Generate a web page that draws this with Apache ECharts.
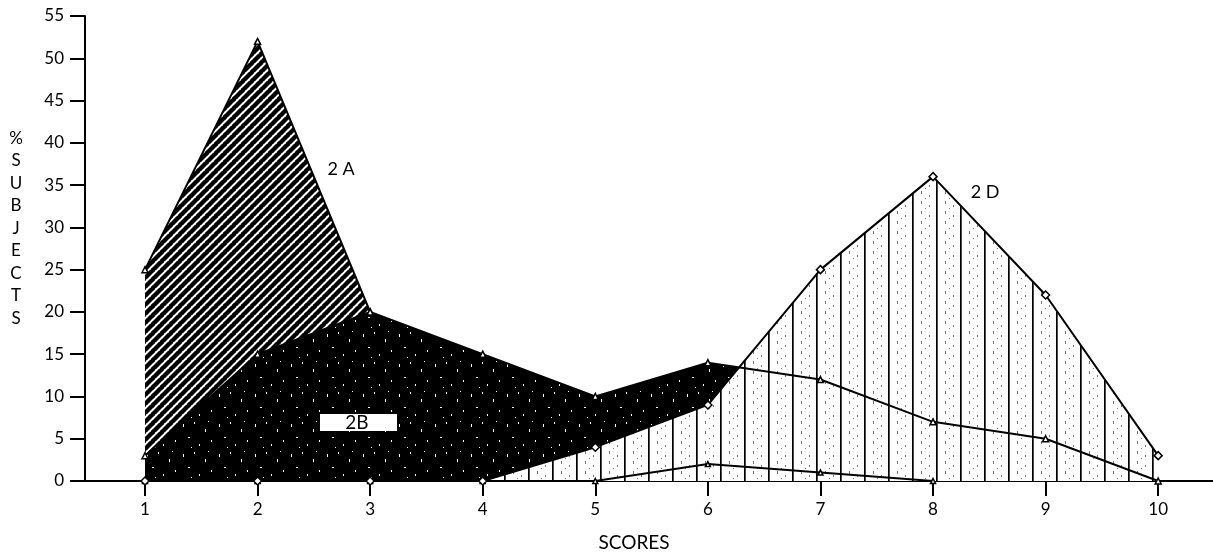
<!DOCTYPE html>
<html>
<head>
<meta charset="utf-8">
<script src="https://cdn.jsdelivr.net/npm/echarts@6/dist/echarts.min.js"></script>
<style>
html,body{margin:0;padding:0;background:#fff;}
#chart{width:1213px;height:556px;}
</style>
</head>
<body>
<div id="chart"></div>
<script>
// ---- data ----
const scores = [1, 2, 3, 4, 5, 6, 7, 8, 9, 10];
const series2A = [25, 52, 20, null, null, null, null, null, null, null];
const series2B = [3, 15, 20, 15, 10, 14, 12, 7, 5, 0];
const series2C = [0, 0, 0, 0, 0, 2, 1, 0, null, null];
const series2D = [0, 0, 0, 0, 4, 9, 25, 36, 22, 3];
const yMin = 0, yMax = 55, yStep = 5;
const xTitle = 'SCORES';
const yTitle = ['%', 'S', 'U', 'B', 'J', 'E', 'C', 'T', 'S'];
const labelA = '2 A', labelB = '2B', labelD = '2 D';

function pairs(vals) { return scores.map((s, i) => [s, vals[i]]); }

// ---- textures ----
function hatch() {
  const s = 9, c = document.createElement('canvas');
  c.width = s; c.height = s;
  const g = c.getContext('2d');
  g.fillStyle = '#fff'; g.fillRect(0, 0, s, s);
  g.strokeStyle = '#000'; g.lineWidth = 4.4;
  [[0, s, s, 0], [-s, s, 0, 0], [s, s, 2 * s, 0], [-1, 1, 1, -1], [s - 1, s + 1, s + 1, s - 1]].forEach(l => {
    g.beginPath(); g.moveTo(l[0], l[1]); g.lineTo(l[2], l[3]); g.stroke();
  });
  return c;
}
function speckle() {
  const w = 36, h = 30, c = document.createElement('canvas');
  c.width = w; c.height = h;
  const g = c.getContext('2d');
  g.fillStyle = '#000'; g.fillRect(0, 0, w, h);
  g.fillStyle = '#fff';
  const dots = [[3, 4, 1, 3], [14, 2, 1, 2], [25, 9, 1, 3], [31, 20, 1, 2], [8, 17, 2, 1], [19, 24, 1, 2], [28, 1, 1, 1], [11, 27, 1, 1]];
  dots.forEach(d => g.fillRect(d[0], d[1], d[2], d[3]));
  return c;
}
function vlines() {
  const w = 24, h = 10, c = document.createElement('canvas');
  c.width = w; c.height = h;
  const g = c.getContext('2d');
  g.fillStyle = '#fff'; g.fillRect(0, 0, w, h);
  g.fillStyle = '#000'; g.fillRect(0, 0, 1.7, h);
  g.fillStyle = '#777';
  g.fillRect(9, 1, 1, 3); g.fillRect(17, 5, 1, 2); g.fillRect(13, 8, 1, 1);
  return c;
}

const chart = echarts.init(document.getElementById('chart'), null, { renderer: 'canvas' });
const FONT = 'Lato';

const option = {
  animation: false,
  backgroundColor: '#fff',
  grid: { left: 85, right: 0, top: 16, bottom: 75, containLabel: false },
  xAxis: {
    type: 'value', min: 0.467, max: 10.487,
    splitLine: { show: false },
    axisLine: { show: true, lineStyle: { color: '#000', width: 2 } },
    axisTick: { show: true, customValues: scores, length: 15, lineStyle: { color: '#000', width: 2 } },
    axisLabel: { customValues: scores, margin: 20, color: '#000', fontSize: 17, fontFamily: FONT }
  },
  yAxis: {
    type: 'value', min: yMin, max: yMax, interval: yStep,
    splitLine: { show: false },
    axisLine: { show: true, lineStyle: { color: '#000', width: 2 } },
    axisTick: { show: true, length: 15, lineStyle: { color: '#000', width: 2 } },
    axisLabel: { margin: 21, color: '#000', fontSize: 17, fontFamily: FONT }
  },
  series: [
    { name: '2A', type: 'line', data: pairs(series2A), symbol: 'triangle', symbolSize: 6, showSymbol: true,
      itemStyle: { color: '#fff', borderColor: '#000', borderWidth: 1.5 },
      lineStyle: { color: '#000', width: 2 },
      areaStyle: { color: { image: hatch(), repeat: 'repeat' }, opacity: 1 } },
    { name: '2B fill', type: 'line', data: pairs(series2B), showSymbol: false,
      lineStyle: { width: 0 },
      areaStyle: { color: { image: speckle(), repeat: 'repeat' }, opacity: 1 } },
    { name: '2D fill', type: 'line', data: pairs(series2D), showSymbol: false,
      lineStyle: { width: 0 },
      areaStyle: { color: { image: vlines(), repeat: 'repeat' }, opacity: 1 } },
    { name: '2C', type: 'line', data: pairs(series2C), symbol: 'triangle', symbolSize: 5,
      itemStyle: { color: '#fff', borderColor: '#000', borderWidth: 1.5 },
      lineStyle: { color: '#000', width: 2 } },
    { name: '2B', type: 'line', data: pairs(series2B), symbol: 'triangle', symbolSize: 6,
      itemStyle: { color: '#fff', borderColor: '#000', borderWidth: 1.5 },
      lineStyle: { color: '#000', width: 2 } },
    { name: '2D', type: 'line', data: pairs(series2D), symbol: 'diamond', symbolSize: 8,
      itemStyle: { color: '#fff', borderColor: '#000', borderWidth: 1.5 },
      lineStyle: { color: '#000', width: 2 } }
  ],
  graphic: [
    { type: 'text', x: 16, y: 127, silent: true,
      style: { text: yTitle.join('\n'), fontSize: 17, fontFamily: FONT, lineHeight: 22.5, fill: '#000', align: 'center', verticalAlign: 'top' } },
    { type: 'text', x: 634, y: 543, silent: true,
      style: { text: xTitle, fontSize: 19, fontFamily: FONT, fill: '#000', align: 'center', verticalAlign: 'middle' } },
    { type: 'text', x: 341, y: 169, silent: true,
      style: { text: labelA, fontSize: 18, fontFamily: FONT, fill: '#000', align: 'center', verticalAlign: 'middle' } },
    { type: 'text', x: 985, y: 192, silent: true,
      style: { text: labelD, fontSize: 18, fontFamily: FONT, fill: '#000', align: 'center', verticalAlign: 'middle' } },
    { type: 'rect', shape: { x: 320, y: 414, width: 77, height: 17 }, z: 100, silent: true, style: { fill: '#fff' } },
    { type: 'text', x: 357, y: 423, z: 101, silent: true,
      style: { text: labelB, fontSize: 19, fontFamily: FONT, fill: '#000', align: 'center', verticalAlign: 'middle' } }
  ]
};
chart.setOption(option);
</script>
</body>
</html>
